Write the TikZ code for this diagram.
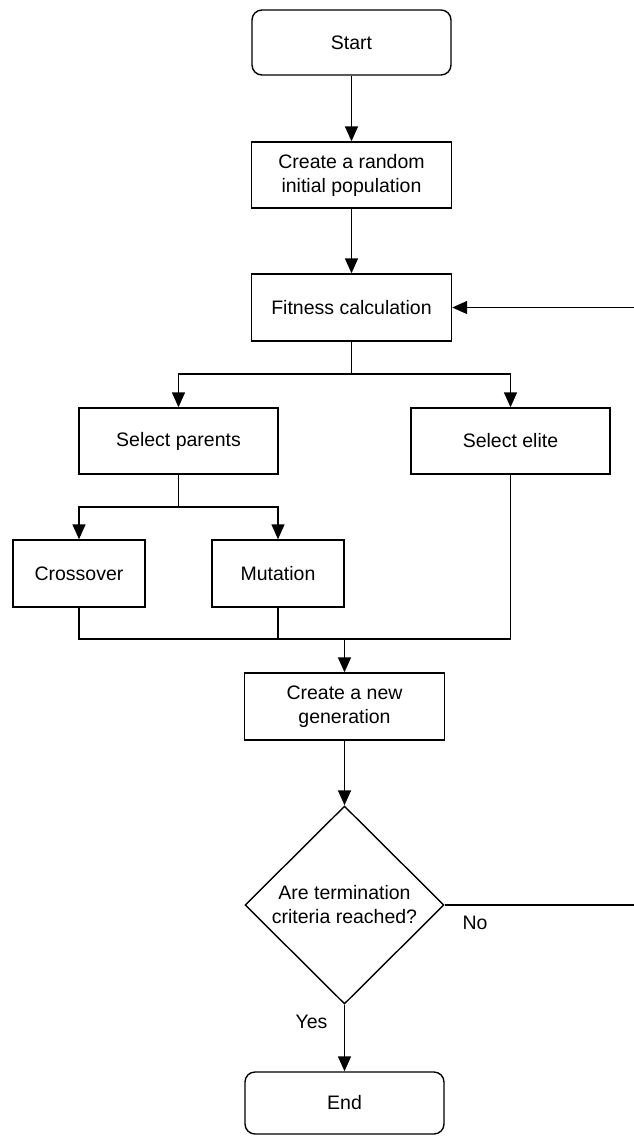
\documentclass[tikz,border=0pt]{standalone}
\usepackage{fontspec}
\setmainfont{Liberation Sans}
\usetikzlibrary{shapes.geometric,arrows.meta}
\begin{document}
\begin{tikzpicture}[x=1pt,y=-1pt,
  every node/.style={font=\fontsize{19.5}{24}\selectfont, text=black},
  box/.style={draw=black, line width=1.4pt, rectangle, inner sep=0pt, align=center},
  term/.style={box, rounded corners=10pt},
  decision/.style={draw=black, line width=1.4pt, diamond, inner sep=0pt, align=center, minimum width=199pt, minimum height=198pt},
  conn/.style={draw=black, line width=1.4pt},
  arr/.style={conn, -{Triangle[length=15pt,width=13pt]}},
  lbl/.style={inner sep=0pt}
]
\useasboundingbox (0,0) rectangle (633,1136);
\fill[white] (0,0) rectangle (633,1136);

\node[term, minimum width=199pt, minimum height=65pt] (start) at (351.5,42.5) {Start};
\node[box, minimum width=200pt, minimum height=66pt] (init) at (351.5,175) {Create a random\\initial population};
\node[box, minimum width=200pt, minimum height=67pt] (fit) at (351.5,307.5) {Fitness calculation};
\node[box, minimum width=199pt, minimum height=66pt] (par) at (178.5,441) {Select parents};
\node[box, minimum width=199pt, minimum height=66pt] (eli) at (510.5,441) {Select elite};
\node[box, minimum width=132pt, minimum height=67pt] (cro) at (79,573.5) {Crossover};
\node[box, minimum width=132pt, minimum height=67pt] (mut) at (278,573.5) {Mutation};
\node[box, minimum width=200pt, minimum height=67pt] (gen) at (344.5,706.5) {Create a new\\generation};
\node[decision] (dec) at (344.5,905) {Are termination\\criteria reached?};
\node[term, minimum width=199pt, minimum height=62pt] (end) at (344.5,1103) {End};

\coordinate (s1) at (351.5,374);
\coordinate (s2) at (178.5,507);
\coordinate (m) at (344.5,639);
\coordinate (loop) at (637,905);

\draw[arr] (start) -- (init);
\draw[arr] (init) -- (fit);
\draw[conn] (fit.south) -- (s1);
\draw[arr] (s1) -| (par.north);
\draw[arr] (s1) -| (eli.north);
\draw[conn] (par.south) -- (s2);
\draw[arr] (s2) -| (cro.north);
\draw[arr] (s2) -| (mut.north);
\draw[conn] (cro.south) |- (m);
\draw[conn] (mut.south) |- (m);
\draw[conn] (eli.south) |- (m);
\draw[arr] (m) -- (gen.north);
\draw[arr] (gen) -- (dec);
\draw[arr] (dec.south) -- (end.north);
\draw[arr] (dec.east) -- (loop) |- (fit.east);

\node[lbl] (no) at (475,923) {No};
\node[lbl] (yes) at (311.5,1022) {Yes};
\end{tikzpicture}
\end{document}
